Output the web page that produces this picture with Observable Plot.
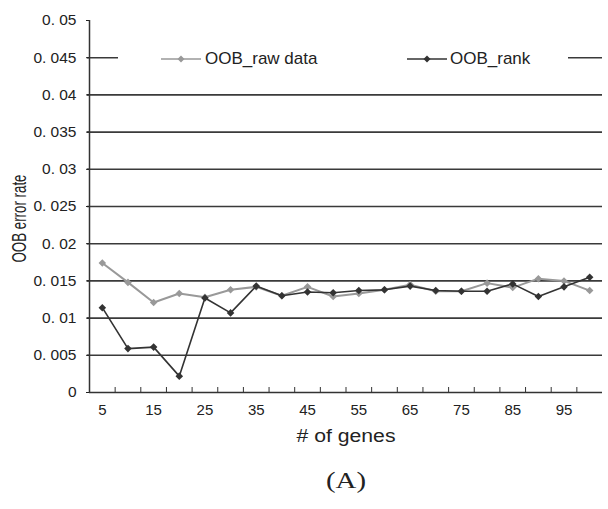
<!DOCTYPE html>
<html><head><meta charset="utf-8">
<script src="https://cdn.jsdelivr.net/npm/d3@7"></script>
<script src="https://cdn.jsdelivr.net/npm/@observablehq/plot@0.6"></script>
<style>
body{margin:0;background:#fff}
#wrap{position:relative;width:608px;height:509px;}
#legend{position:absolute;left:118px;top:49px;width:450px;height:20px;background:#fff;font:17px 'Liberation Sans',Arial,sans-serif;color:#222;}
#legend .sw{position:absolute;top:0;}
#legend .lb{position:absolute;top:0px;line-height:20px;white-space:nowrap;}
</style></head><body>
<div id="wrap"><div id="legend"></div></div>
<script>
const genes = [5,10,15,20,25,30,35,40,45,50,55,60,65,70,75,80,85,90,95,100];
const oobRaw  = [0.0174,0.0148,0.0121,0.0133,0.0128,0.0138,0.0142,0.0130,0.0142,0.0129,0.0133,0.0138,0.0145,0.0136,0.0136,0.0147,0.0141,0.0153,0.0150,0.0137];
const oobRank = [0.0114,0.0059,0.0061,0.0022,0.0127,0.0107,0.0143,0.0130,0.0135,0.0134,0.0137,0.0138,0.0143,0.0137,0.0136,0.0136,0.0146,0.0129,0.0142,0.0155];
const yTicks = [0,0.005,0.01,0.015,0.02,0.025,0.03,0.035,0.04,0.045,0.05];
const xLabels = [5,15,25,35,45,55,65,75,85,95];
const seriesNames = ["OOB_raw data","OOB_rank"];
const seriesColors = ["#999999","#333333"];

const W = 608, H = 509, mL = 89, mR = 6, mT = 20, mB = 117;
const half = (genes[1]-genes[0])/2;
const xDomain = [genes[0]-half, genes[genes.length-1]+half];
const boundaries = genes.slice(1).map((g,i)=>(g+genes[i])/2);
const rows = [];
genes.forEach((g,i)=>{
  rows.push({g, v: oobRaw[i], s: seriesNames[0]});
  rows.push({g, v: oobRank[i], s: seriesNames[1]});
});
const font = "'Liberation Sans',Arial,sans-serif";

const chart = Plot.plot({
  width: W, height: H,
  marginLeft: mL, marginRight: mR, marginTop: mT, marginBottom: mB,
  style: {fontFamily: font, color: "#222", background: "#fff"},
  x: {type: "linear", domain: xDomain},
  y: {domain: [0, 0.05]},
  marks: [
    Plot.ruleY(yTicks.filter(t => t > 0 && t < 0.05), {stroke: "#3a3a3a", strokeWidth: 1.6, insetLeft: -2}),
    Plot.axisY({ticks: yTicks, tickFormat: d => d === 0 ? "0" : String(d).replace("0.", "0. "), tickSize: 3, tickPadding: 10, fontSize: 15.5, label: null}),
    Plot.axisX({ticks: xLabels, tickSize: 0, tickPadding: 12, fontSize: 15, label: null}),
    Plot.tickX(boundaries, {x: d => d, stroke: "#333", strokeWidth: 1, insetTop: H - mT - mB - 5}),
    Plot.ruleX([xDomain[0]], {y1: 0, y2: 0.05, stroke: "#333", strokeWidth: 1.5}),
    Plot.ruleY([0], {stroke: "#333", strokeWidth: 1.5}),
    Plot.line(rows.filter(r => r.s === seriesNames[0]), {x: "g", y: "v", stroke: seriesColors[0], strokeWidth: 2}),
    Plot.dot(rows.filter(r => r.s === seriesNames[0]), {x: "g", y: "v", fill: seriesColors[0], symbol: "diamond2", r: 3.4}),
    Plot.line(rows.filter(r => r.s === seriesNames[1]), {x: "g", y: "v", stroke: seriesColors[1], strokeWidth: 1.6}),
    Plot.dot(rows.filter(r => r.s === seriesNames[1]), {x: "g", y: "v", fill: seriesColors[1], symbol: "diamond2", r: 3.4}),
    Plot.text(["OOB error rate"], {frameAnchor: "left", textAnchor: "middle", rotate: -90, dx: -70, dy: 12, fontSize: 20, className: "ytitle"}),
    Plot.text(["# of genes"], {frameAnchor: "bottom", textAnchor: "middle", dy: 49, fontSize: 17.5, className: "xtitle"}),
    Plot.text(["(A)"], {frameAnchor: "bottom", textAnchor: "middle", dy: 95, fontSize: 24, fontFamily: "'Liberation Serif','DejaVu Serif',serif", className: "cap"})
  ]
});
const wrap = document.getElementById("wrap");
wrap.insertBefore(chart, wrap.firstChild);
// the reference's lettering is drawn wider than tall; fit runs of text to the measured lengths
const fit = (sel, len) => d3.select(chart).selectAll(sel).attr("textLength", len).attr("lengthAdjust", "spacingAndGlyphs");
fit(".ytitle text", 88);
fit(".xtitle text", 99);
fit(".cap text", 40);

const legend = document.getElementById("legend");
const swPos = [[43, 87], [289, 332]];
seriesNames.forEach((name, i) => {
  const sw = document.createElementNS("http://www.w3.org/2000/svg", "svg");
  sw.setAttribute("class", "sw");
  sw.setAttribute("width", 40); sw.setAttribute("height", 20);
  sw.style.left = swPos[i][0] + "px";
  sw.innerHTML = `<line x1="0" x2="40" y1="10" y2="10" stroke="${seriesColors[i]}" stroke-width="1.5"/>` +
    `<path d="M20,6.5L23.5,10L20,13.5L16.5,10Z" fill="${seriesColors[i]}"/>`;
  legend.appendChild(sw);
  const lb = document.createElement("span");
  lb.className = "lb";
  lb.style.left = swPos[i][1] + "px";
  lb.textContent = name;
  legend.appendChild(lb);
});
</script>
</body></html>
